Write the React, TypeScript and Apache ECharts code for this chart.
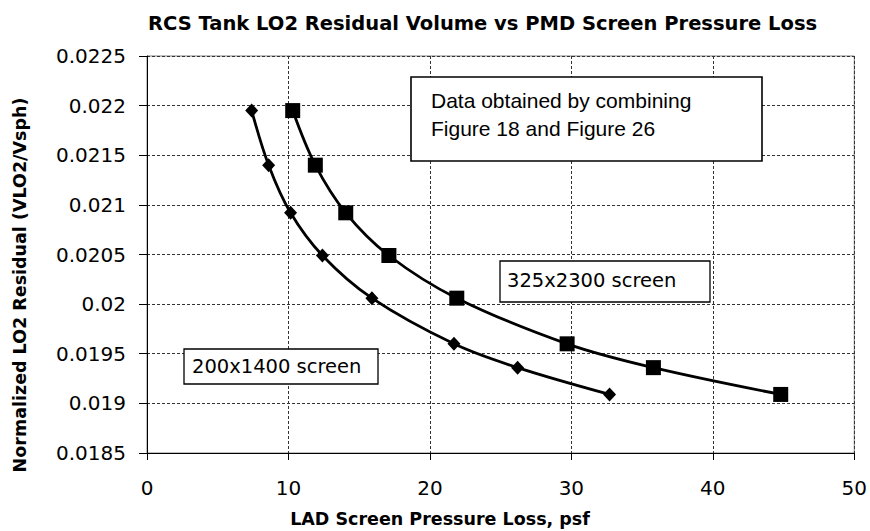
import React, { useEffect, useRef } from "react";
import * as echarts from "echarts";

const screen200x1400X = [7.4, 8.6, 10.15, 12.4, 15.9, 21.7, 26.2, 32.7];
const screen325x2300X = [10.3, 11.9, 14.05, 17.1, 21.9, 29.7, 35.8, 44.8];
const residualY = [0.02195, 0.0214, 0.02092, 0.02049, 0.02006, 0.0196, 0.01936, 0.01909];
const xTicks = { min: 0, max: 50, interval: 10 };
const yTicks = { min: 0.0185, max: 0.0225, interval: 0.0005 };

const titleText = "RCS Tank LO2 Residual Volume vs PMD Screen Pressure Loss";
const xName = "LAD Screen Pressure Loss, psf";
const yName = "Normalized LO2 Residual (VLO2/Vsph)";
const noteLines = ["Data obtained by combining", "Figure 18 and Figure 26"];
const label200 = "200x1400 screen";
const label325 = "325x2300 screen";

export default function App() {
  const ref = useRef<HTMLDivElement>(null);
  useEffect(() => {
    if (!ref.current) return;
    const chart = echarts.init(ref.current, null, { renderer: "svg" });
    const pairs = (xs: number[]) => xs.map((x, i) => [x, residualY[i]]);
    const tickFont = { fontFamily: "DejaVu Sans", fontSize: 20, color: "#000" };
    chart.setOption({
      animation: false,
      backgroundColor: "#fff",
      title: {
        text: titleText,
        left: 143,
        top: 8,
        textStyle: { fontFamily: "DejaVu Sans", fontWeight: "bold", fontSize: 19.5, color: "#000" },
      },
      grid: {
        left: 147,
        right: 13,
        top: 56,
        bottom: 78,
        show: true,
        borderColor: "#808080",
        borderWidth: 1,
      },
      xAxis: {
        type: "value",
        min: xTicks.min,
        max: xTicks.max,
        interval: xTicks.interval,
        axisLine: { show: true, onZero: false, lineStyle: { color: "#000", width: 1 } },
        axisTick: { show: true, inside: false, length: 7, lineStyle: { color: "#000" } },
        axisLabel: { ...tickFont, margin: 25 },
        splitLine: { show: true, lineStyle: { color: "#333", type: [3, 2], width: 1 } },
      },
      yAxis: {
        type: "value",
        min: yTicks.min,
        max: yTicks.max,
        interval: yTicks.interval,
        axisLine: { show: true, onZero: false, lineStyle: { color: "#000", width: 1 } },
        axisTick: { show: true, inside: false, length: 8, lineStyle: { color: "#000" } },
        axisLabel: {
          ...tickFont,
          margin: 21,
          formatter: (v: number) => String(parseFloat(v.toFixed(4))),
        },
        splitLine: { show: true, lineStyle: { color: "#333", type: [3, 2], width: 1 } },
      },
      series: [
        {
          name: label200,
          type: "line",
          data: pairs(screen200x1400X),
          smooth: 0.35,
          symbol: "diamond",
          symbolSize: [13, 14],
          lineStyle: { color: "#000", width: 2.8 },
          itemStyle: { color: "#000" },
        },
        {
          name: label325,
          type: "line",
          data: pairs(screen325x2300X),
          smooth: 0.35,
          symbol: "rect",
          symbolSize: 15,
          lineStyle: { color: "#000", width: 2.8 },
          itemStyle: { color: "#000" },
        },
      ],
      graphic: [
        {
          type: "text",
          x: 440,
          y: 519,
          style: {
            text: xName,
            fontFamily: "DejaVu Sans",
            fontWeight: "bold",
            fontSize: 17.5,
            fill: "#000",
            align: "center",
            verticalAlign: "middle",
          },
        },
        {
          type: "text",
          x: 20,
          y: 285,
          rotation: Math.PI / 2,
          style: {
            text: yName,
            fontFamily: "DejaVu Sans",
            fontWeight: "bold",
            fontSize: 17.5,
            fill: "#000",
            align: "center",
            verticalAlign: "middle",
          },
        },
        {
          type: "rect",
          shape: { x: 411, y: 77, width: 351, height: 84 },
          style: { fill: "#fff", stroke: "#000", lineWidth: 1.6 },
          z: 100,
        },
        {
          type: "text",
          x: 431,
          y: 114,
          z: 101,
          style: {
            text: noteLines.join("\n"),
            fontFamily: "Liberation Sans",
            fontSize: 21,
            lineHeight: 28,
            fill: "#000",
            align: "left",
            verticalAlign: "middle",
          },
        },
        {
          type: "rect",
          shape: { x: 500, y: 261, width: 210, height: 41 },
          style: { fill: "#fff", stroke: "#000", lineWidth: 1.3 },
          z: 100,
        },
        {
          type: "text",
          x: 507,
          y: 280,
          z: 101,
          style: {
            text: label325,
            fontFamily: "DejaVu Sans",
            fontSize: 19.5,
            fill: "#000",
            align: "left",
            verticalAlign: "middle",
          },
        },
        {
          type: "rect",
          shape: { x: 184, y: 349, width: 194, height: 35 },
          style: { fill: "#fff", stroke: "#000", lineWidth: 1.3 },
          z: 100,
        },
        {
          type: "text",
          x: 192,
          y: 366,
          z: 101,
          style: {
            text: label200,
            fontFamily: "DejaVu Sans",
            fontSize: 19.5,
            fill: "#000",
            align: "left",
            verticalAlign: "middle",
          },
        },
      ],
    });
    return () => chart.dispose();
  }, []);
  return <div ref={ref} style={{ width: 870, height: 531, position: "absolute", left: 0, top: 0 }} />;
}
